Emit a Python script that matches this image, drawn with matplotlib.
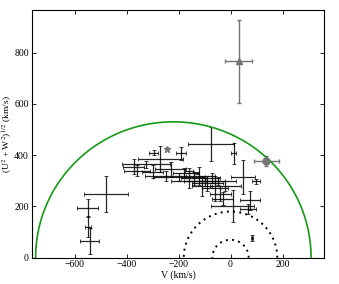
import matplotlib
matplotlib.use("Agg")
import matplotlib.pyplot as plt
import numpy as np

plt.rcParams['font.family'] = ['Liberation Serif', 'DejaVu Serif']
plt.rcParams['mathtext.fontset'] = 'stix'
plt.rcParams['font.size'] = 7

# stars: V, (U^2+W^2)^1/2, errors (km/s)
v = [-479, -550, -542, -548,
     -296, -190, -270, -74, 12, -373, -325, -360, -300, -230, -250, -200,
     -180, -160, -140, -120, -100, -110, -90, -70, -60, -50, -40, -30, -20,
     -130, -160, 48, 98, 76, 68, 9, 82]
uw = [250, 195, 66, 121,
      410, 407, 385, 443, 407, 355, 364, 340, 335, 345, 320, 315,
      330, 300, 310, 320, 300, 280, 290, 310, 270, 300, 250, 230, 280,
      330, 340, 315, 298, 224, 191, 202, 76]
v_err = [84, 41, 36, 10,
         18, 18, 87, 88, 11, 40, 93, 50, 40, 60, 80, 100,
         40, 70, 50, 60, 80, 40, 60, 30, 50, 70, 40, 40, 60,
         10, 15, 45, 15, 38, 30, 83, 5]
uw_err = [70, 35, 50, 40,
          10, 25, 50, 67, 40, 30, 15, 20, 25, 30, 20, 15,
          20, 30, 25, 35, 20, 40, 30, 20, 50, 15, 30, 25, 20,
          5, 8, 65, 10, 37, 20, 62, 12]

# special objects
tri_v, tri_uw, tri_verr, tri_uwerr = 32, 766, 52, 161
circ_v, circ_uw, circ_verr, circ_uwerr = 137, 377, 48, 20
star_v, star_uw = -245, 423

# velocity circles
halo_center, halo_radius = -220, 530
disk_radii = [70, 180]

fig = plt.figure(figsize=(3.39, 2.84), dpi=100)
ax = fig.add_axes([0.0935, 0.0926, 0.8625, 0.8711])

ax.errorbar(v, uw, xerr=v_err, yerr=uw_err, fmt='none', ecolor='k',
            elinewidth=0.9, capsize=1.2, capthick=0.6, alpha=0.85)
ax.errorbar(tri_v, tri_uw, xerr=tri_verr, yerr=tri_uwerr, fmt='^', color='0.45',
            ms=5, elinewidth=1, capsize=1.2)
ax.errorbar(circ_v, circ_uw, xerr=circ_verr, yerr=circ_uwerr, fmt='o', color='0.45',
            ms=5, elinewidth=1, capsize=1.2)
ax.plot(star_v, star_uw, '*', color='0.45', ms=5)

t = np.linspace(0, np.pi, 400)
ax.plot(halo_center + halo_radius * np.cos(t), halo_radius * np.sin(t),
        color='#159a15', lw=1.2)
for r in disk_radii:
    ax.plot(r * np.cos(t), r * np.sin(t), color='k', lw=1.4, ls=(0, (1, 2.2)))

ax.set_xlim(-765, 360)
ax.set_ylim(0, 965)
ax.set_xticks([-600, -400, -200, 0, 200])
ax.set_yticks([0, 200, 400, 600, 800])
ax.tick_params(direction='in', top=True, right=True, length=3, width=0.6, pad=2)
ax.set_xlabel('V (km/s)', labelpad=1)
ax.set_ylabel('(U$^2$ + W$^2$)$^{1/2}$ (km/s)', labelpad=0, fontsize=6.8)

fig.savefig('out.png', dpi=100)
